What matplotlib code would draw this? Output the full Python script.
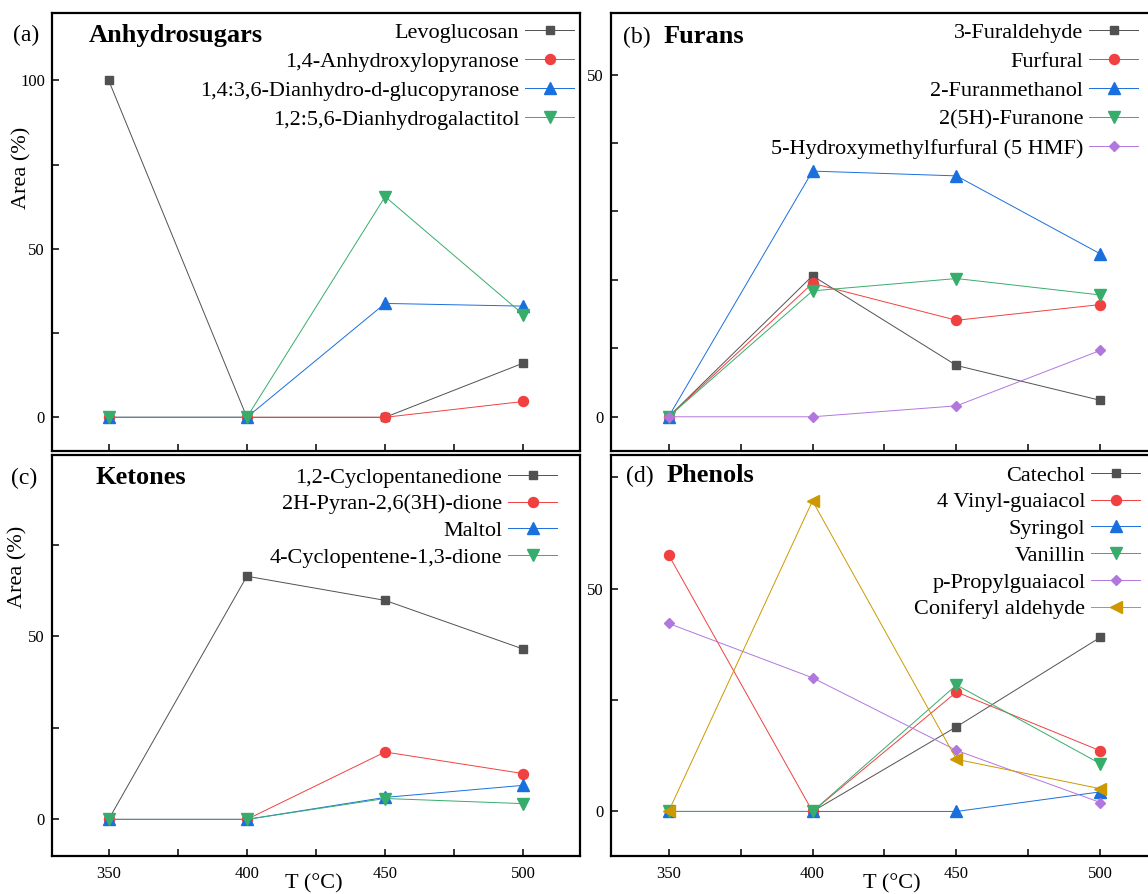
import matplotlib
matplotlib.use('Agg')
import matplotlib.pyplot as plt
from matplotlib.ticker import MultipleLocator

plt.rcParams['font.family'] = ['Liberation Serif', 'DejaVu Serif']

# 温度
temps = [350, 400, 450, 500]

# (a) Anhydrosugars
a_names = ['Levoglucosan', '1,4-Anhydroxylopyranose',
           '1,4:3,6-Dianhydro-d-glucopyranose', '1,2:5,6-Dianhydrogalactitol']
levoglucosan = [100, 0, 0, 16.1]
anhydroxylopyranose = [0, 0, 0, 4.7]
dianhydro_glucopyranose = [0, 0, 33.8, 33.0]
dianhydrogalactitol = [0, 0, 65.5, 30.5]

# (b) Furans
b_names = ['3-Furaldehyde', 'Furfural', '2-Furanmethanol', '2(5H)-Furanone',
           '5-Hydroxymethylfurfural (5 HMF)']
furaldehyde = [0, 20.6, 7.5, 2.4]
furfural = [0, 19.5, 14.1, 16.4]
furanmethanol = [0, 35.9, 35.2, 23.8]
furanone = [0, 18.4, 20.2, 17.8]
hmf = [0, 0, 1.6, 9.7]

# (c) Ketones
c_names = ['1,2-Cyclopentanedione', '2H-Pyran-2,6(3H)-dione', 'Maltol',
           '4-Cyclopentene-1,3-dione']
cyclopentanedione = [0, 66.4, 59.8, 46.5]
pyrandione = [0, 0, 18.4, 12.5]
maltol = [0, 0, 6.0, 9.3]
cyclopentenedione = [0, 0, 5.7, 4.3]

# (d) Phenols
d_names = ['Catechol', '4 Vinyl-guaiacol', 'Syringol', 'Vanillin',
           'p-Propylguaiacol', 'Coniferyl aldehyde']
catechol = [0, 0, 19.0, 39.1]
vinylguaiacol = [57.6, 0, 26.8, 13.6]
syringol = [0, 0, 0, 4.4]
vanillin = [0, 0, 28.4, 10.7]
propylguaiacol = [42.2, 30.0, 13.7, 2.0]
coniferyl = [0, 69.7, 11.7, 5.1]

# Origin 风格的颜色和标记
colors = ['#515151', '#F14040', '#1A6FDF', '#37AD6B', '#B177DE', '#CC9900']
markers = ['s', 'o', '^', 'v', 'D', '<']
msizes = [6, 7.2, 9, 9, 5.5, 9]

W, H = 1148, 894
fig = plt.figure(figsize=(W / 100, H / 100), dpi=100)


def add_panel(left, top, right, bottom, xlim, ylim, major, minor):
    ax = fig.add_axes([left / W, 1 - bottom / H, (right - left) / W, (bottom - top) / H])
    ax.set_xlim(*xlim)
    ax.set_ylim(*ylim)
    ax.set_xticks(temps)
    ax.xaxis.set_minor_locator(MultipleLocator(25))
    ax.yaxis.set_major_locator(MultipleLocator(major))
    ax.yaxis.set_minor_locator(MultipleLocator(minor))
    ax.tick_params(which='both', direction='in', length=5, width=1.1,
                   top=False, right=False, labelsize=12)
    ax.tick_params(axis='x', pad=7)
    ax.tick_params(axis='y', pad=5)
    for s in ax.spines.values():
        s.set_linewidth(1.6)
    return ax


def draw(ax, series, names, anchor, spacing):
    for i, (vals, name) in enumerate(zip(series, names)):
        ax.plot(temps, vals, color=colors[i], marker=markers[i], ms=msizes[i],
                lw=0.7, label=name)
    ax.legend(loc='upper right', bbox_to_anchor=(anchor[0] / W, 1 - anchor[1] / H),
              bbox_transform=fig.transFigure, frameon=False, markerfirst=False,
              borderpad=0, borderaxespad=0, handlelength=2.2, handletextpad=0.26,
              labelspacing=spacing, fontsize=16)


ax_a = add_panel(52, 13, 580, 451, (329.5, 520.5), (-10, 120), 50, 25)
ax_b = add_panel(611, 13, 1158, 451, (330, 520), (-5, 59), 50, 10)
ax_c = add_panel(52, 455, 580, 856, (329.5, 520.5), (-10, 99.5), 50, 25)
ax_d = add_panel(611, 455, 1158, 856, (330, 520), (-10, 80), 50, 25)

ax_a.tick_params(axis='x', labelbottom=False)
ax_b.tick_params(axis='x', labelbottom=False)

draw(ax_a, [levoglucosan, anhydroxylopyranose, dianhydro_glucopyranose,
            dianhydrogalactitol], a_names, (574, 22), 0.38)
draw(ax_b, [furaldehyde, furfural, furanmethanol, furanone, hmf],
     b_names, (1138, 22), 0.38)
draw(ax_c, [cyclopentanedione, pyrandione, maltol, cyclopentenedione],
     c_names, (557, 467), 0.28)
draw(ax_d, [catechol, vinylguaiacol, syringol, vanillin, propylguaiacol, coniferyl],
     d_names, (1140, 465), 0.28)

# 面板标签和标题
labels = [('(a)', 13, 41), ('(b)', 623, 43), ('(c)', 11, 484), ('(d)', 626, 482)]
for t, x, y in labels:
    fig.text(x / W, 1 - y / H, t, fontsize=17, va='baseline', ha='left')
titles = [('Anhydrosugars', 89, 42), ('Furans', 664, 43), ('Ketones', 95, 484),
          ('Phenols', 667, 482)]
for t, x, y in titles:
    fig.text(x / W, 1 - y / H, t, fontsize=19, fontweight='bold', va='baseline', ha='left')

# 坐标轴标题
fig.text(22 / W, 1 - 168 / H, 'Area (%)', fontsize=16, rotation=90, va='center', ha='center')
fig.text(18 / W, 1 - 567 / H, 'Area (%)', fontsize=16, rotation=90, va='center', ha='center')
fig.text(314 / W, 1 - 888 / H, 'T (°C)', fontsize=16, va='baseline', ha='center')
fig.text(892 / W, 1 - 888 / H, 'T (°C)', fontsize=16, va='baseline', ha='center')

plt.savefig('out.png', dpi=100)
